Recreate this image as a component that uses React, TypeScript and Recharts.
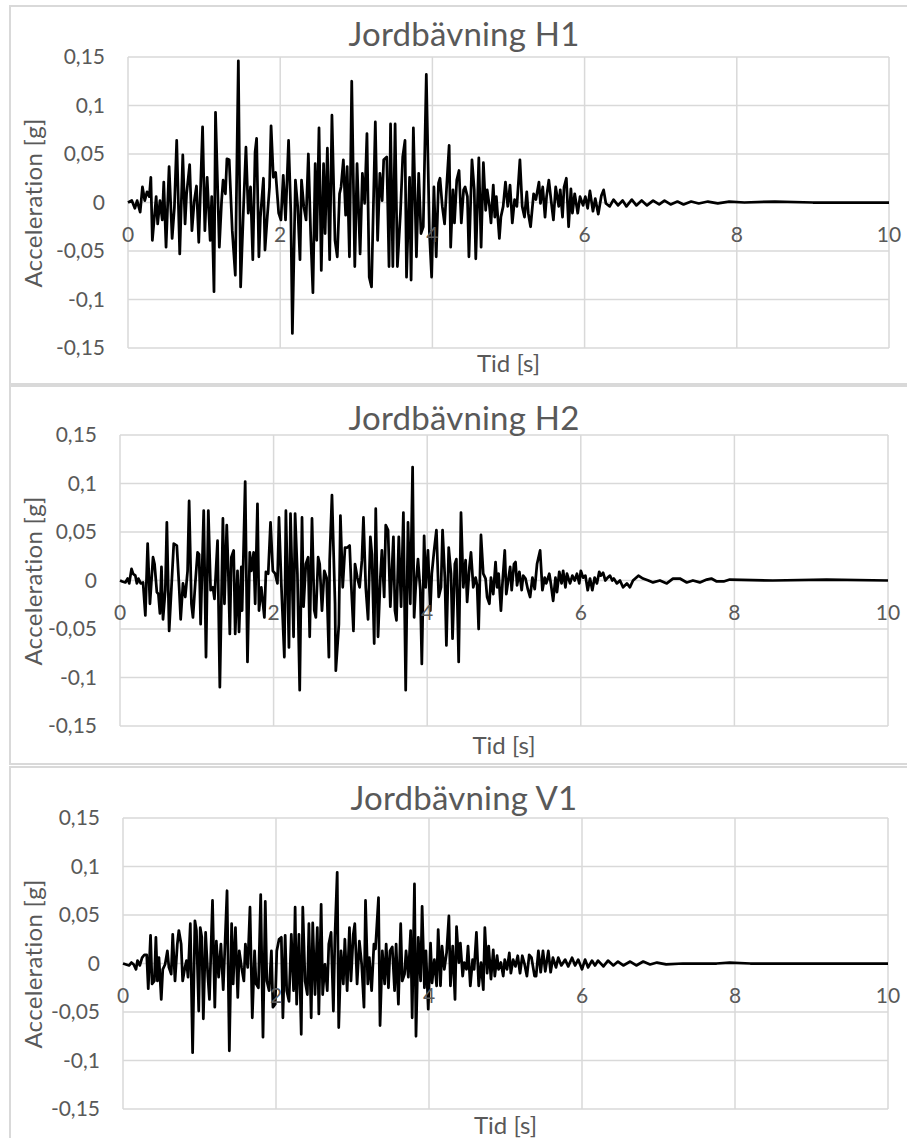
import { LineChart, Line, XAxis, YAxis, CartesianGrid } from 'recharts';

// time [s], acceleration [g] — peaks and troughs
const H1: [number, number][] = [
  [0, 0], [0.05, 0.002], [0.09, -0.006], [0.12, 0.002], [0.16, -0.01], [0.19, 0.016], [0.22, 0.002], [0.25, 0.011],
  [0.28, 0.006], [0.3, 0.026], [0.32, -0.039], [0.37, 0.006], [0.39, -0.022], [0.42, 0.002], [0.45, -0.018], [0.47, 0.021],
  [0.5, -0.046], [0.54, 0.037], [0.58, -0.037], [0.61, -0.005], [0.64, 0.064], [0.68, -0.053], [0.72, 0.049], [0.75, -0.022],
  [0.77, 0.009], [0.81, 0.039], [0.84, -0.029], [0.87, 0.001], [0.9, 0.017], [0.93, -0.041], [0.98, 0.078], [1.01, -0.029],
  [1.04, 0.026], [1.08, -0.039], [1.1, 0.006], [1.13, -0.092], [1.15, 0.093], [1.2, -0.046], [1.23, 0.002], [1.25, 0.023],
  [1.28, 0.009], [1.3, 0.045], [1.33, 0.044], [1.37, -0.029], [1.41, -0.075], [1.45, 0.146], [1.48, -0.087], [1.52, -0.001],
  [1.55, 0.057], [1.58, -0.011], [1.61, 0.016], [1.64, -0.059], [1.67, 0.052], [1.69, 0.066], [1.72, -0.056], [1.74, -0.015],
  [1.78, 0.025], [1.8, -0.049], [1.83, -0.015], [1.86, 0.016], [1.88, 0.079], [1.91, 0.026], [1.94, 0.031], [1.98, -0.011],
  [2.01, -0.018], [2.04, 0.028], [2.07, -0.018], [2.11, 0.064], [2.14, -0.011], [2.16, -0.135], [2.2, 0.023], [2.23, -0.004],
  [2.26, -0.059], [2.28, 0.023], [2.31, -0.004], [2.34, -0.018], [2.37, 0.05], [2.4, -0.032], [2.43, -0.093], [2.46, 0.04],
  [2.48, -0.039], [2.51, 0.077], [2.54, -0.07], [2.57, 0.04], [2.59, -0.032], [2.62, 0.056], [2.65, -0.059], [2.68, 0.09],
  [2.72, -0.039], [2.75, -0.056], [2.78, 0.009], [2.8, 0.016], [2.83, 0.044], [2.86, -0.013], [2.88, 0.037], [2.91, -0.056],
  [2.94, 0.125], [2.98, -0.066], [3.01, 0.04], [3.05, -0.053], [3.08, 0.03], [3.11, -0.001], [3.14, 0.071], [3.17, -0.077],
  [3.2, -0.087], [3.25, 0.083], [3.28, -0.039], [3.31, 0.03], [3.34, 0.002], [3.36, 0.044], [3.4, 0.047], [3.43, -0.066],
  [3.45, 0.081], [3.48, -0.066], [3.51, 0.081], [3.54, -0.066], [3.58, -0.011], [3.61, 0.047], [3.64, 0.064], [3.66, -0.077],
  [3.7, 0.026], [3.72, -0.08], [3.75, 0.077], [3.79, -0.056], [3.82, 0.03], [3.85, -0.032], [3.88, -0.025], [3.92, 0.132],
  [3.96, -0.029], [3.99, -0.077], [4.02, 0.016], [4.05, -0.056], [4.08, 0.02], [4.1, 0.025], [4.13, -0.004], [4.16, -0.022],
  [4.19, 0.02], [4.22, 0.059], [4.24, -0.046], [4.27, 0.013], [4.29, -0.021], [4.32, 0.023], [4.35, 0.033], [4.38, -0.021],
  [4.41, 0.013], [4.43, 0.016], [4.46, 0.006], [4.48, -0.056], [4.52, 0.044], [4.55, 0.013], [4.57, -0.058], [4.61, 0.046],
  [4.64, -0.046], [4.67, 0.041], [4.7, -0.008], [4.72, 0.013], [4.75, -0.004], [4.77, -0.021], [4.8, 0.018], [4.82, -0.015],
  [4.84, 0.006], [4.88, -0.037], [4.9, -0.015], [4.93, -0.004], [4.96, 0.021], [4.99, -0.004], [5.02, 0.018], [5.05, -0.021],
  [5.08, 0.003], [5.11, -0.004], [5.15, 0.044], [5.18, -0.004], [5.21, -0.015], [5.24, 0.011], [5.26, -0.011], [5.29, -0.025],
  [5.33, 0.009], [5.36, 0.003], [5.4, 0.021], [5.42, -0.001], [5.45, 0.016], [5.48, -0.015], [5.5, 0.006], [5.53, 0.023],
  [5.56, 0.002], [5.59, -0.018], [5.62, 0.016], [5.66, -0.004], [5.68, 0.013], [5.71, -0.015], [5.73, 0.016], [5.76, 0.025],
  [5.79, -0.025], [5.82, 0.014], [5.84, -0.011], [5.87, 0.009], [5.91, -0.011], [5.94, 0.006], [5.98, -0.003], [6.01, 0.006],
  [6.04, -0.006], [6.07, 0.012], [6.11, -0.009], [6.14, 0.004], [6.18, -0.012], [6.22, 0.007], [6.25, 0.013], [6.28, -0.001],
  [6.33, -0.004], [6.38, 0.003], [6.44, -0.003], [6.5, 0.002], [6.55, -0.004], [6.62, 0.003], [6.68, -0.003], [6.75, 0.002],
  [6.82, -0.003], [6.9, 0.002], [6.98, -0.002], [7.05, 0.002], [7.13, -0.002], [7.22, 0.001], [7.3, -0.002], [7.4, 0.001],
  [7.5, -0.001], [7.62, 0.001], [7.75, -0.001], [7.9, 0.001], [8.1, 0], [8.5, 0.001], [9, 0], [10, 0],
];

const H2: [number, number][] = [
  [0, 0], [0.03, -0.001], [0.07, -0.002], [0.1, 0.002], [0.12, -0.003], [0.15, 0.012], [0.17, 0.007], [0.2, 0.005],
  [0.22, -0.003], [0.24, 0.002], [0.27, -0.003], [0.3, -0.002], [0.33, -0.036], [0.36, 0.038], [0.39, -0.024], [0.43, 0.024],
  [0.45, 0.017], [0.48, -0.012], [0.5, -0.014], [0.52, -0.034], [0.54, 0.014], [0.56, -0.04], [0.59, -0.01], [0.61, 0.06],
  [0.64, -0.052], [0.67, -0.007], [0.7, 0.038], [0.74, 0.036], [0.77, -0.007], [0.79, -0.04], [0.82, -0.003], [0.85, -0.017],
  [0.88, 0.01], [0.9, 0.082], [0.93, -0.024], [0.95, -0.038], [0.98, -0.003], [1.01, 0.029], [1.03, 0.027], [1.05, -0.045],
  [1.09, 0.072], [1.12, -0.079], [1.15, 0.072], [1.18, -0.01], [1.21, -0.007], [1.23, -0.019], [1.27, 0.041], [1.3, -0.11],
  [1.34, 0.064], [1.36, -0.024], [1.39, 0.057], [1.41, 0.01], [1.43, -0.055], [1.45, 0.024], [1.48, 0.031], [1.5, -0.055],
  [1.53, 0.01], [1.55, -0.053], [1.58, 0.014], [1.59, -0.031], [1.63, 0.102], [1.66, -0.084], [1.69, 0.029], [1.71, 0.01],
  [1.74, 0.029], [1.76, -0.024], [1.79, 0.079], [1.81, -0.031], [1.84, -0.007], [1.88, -0.038], [1.9, 0.009], [1.93, 0.007],
  [1.96, 0.06], [1.99, 0.01], [2.02, 0.007], [2.05, -0.003], [2.07, 0.065], [2.1, -0.003], [2.14, -0.079], [2.16, 0.072],
  [2.2, -0.069], [2.22, 0.069], [2.26, -0.058], [2.28, 0.069], [2.31, 0.007], [2.34, -0.113], [2.37, 0.065], [2.39, -0.027],
  [2.42, 0.017], [2.45, 0.024], [2.47, -0.058], [2.5, 0.064], [2.53, -0.031], [2.55, -0.038], [2.58, 0.024], [2.6, 0.017],
  [2.63, -0.031], [2.66, 0.01], [2.69, 0.003], [2.72, -0.079], [2.73, 0.021], [2.76, 0.088], [2.8, -0.024], [2.81, -0.093],
  [2.85, -0.045], [2.87, 0.067], [2.9, -0.007], [2.93, 0.034], [2.96, 0.034], [2.99, 0.036], [3.01, -0.003], [3.04, -0.052],
  [3.06, 0.017], [3.09, 0.003], [3.12, -0.007], [3.15, 0.021], [3.17, 0.065], [3.2, -0.007], [3.23, -0.04], [3.26, 0.045],
  [3.28, 0.027], [3.31, -0.065], [3.33, 0.074], [3.36, -0.058], [3.39, 0.003], [3.41, 0.031], [3.44, -0.017], [3.46, 0.057],
  [3.49, 0.052], [3.52, -0.027], [3.56, 0.045], [3.58, -0.031], [3.6, -0.041], [3.63, 0.045], [3.66, -0.027], [3.69, 0.07],
  [3.72, -0.113], [3.75, 0.06], [3.78, -0.024], [3.81, 0.117], [3.83, -0.038], [3.85, -0.007], [3.88, 0.022], [3.91, -0.01],
  [3.93, -0.086], [3.96, 0.046], [3.98, -0.007], [4.01, 0.031], [4.04, -0.031], [4.06, 0.007], [4.09, 0.031], [4.12, 0.052],
  [4.15, -0.017], [4.18, -0.007], [4.2, 0.052], [4.23, 0.003], [4.25, -0.067], [4.28, 0.034], [4.31, 0.007], [4.33, -0.06],
  [4.36, 0.017], [4.38, 0.022], [4.41, -0.084], [4.44, 0.07], [4.47, -0.007], [4.5, 0.021], [4.52, -0.022], [4.55, 0.014],
  [4.57, 0.029], [4.6, -0.007], [4.63, 0.003], [4.65, -0.005], [4.67, -0.05], [4.7, 0.047], [4.73, 0.007], [4.76, 0.002],
  [4.78, -0.017], [4.81, -0.024], [4.83, 0.003], [4.86, -0.014], [4.89, 0.019], [4.91, -0.007], [4.93, 0.007], [4.96, -0.031],
  [4.98, -0.003], [5.01, 0.031], [5.03, -0.014], [5.06, 0.003], [5.08, 0.014], [5.1, -0.01], [5.13, 0.017], [5.15, 0.019],
  [5.17, -0.005], [5.2, 0.009], [5.23, -0.01], [5.25, 0.005], [5.28, 0.002], [5.31, -0.009], [5.34, -0.017], [5.37, 0.003],
  [5.4, -0.009], [5.43, 0.017], [5.47, 0.031], [5.5, -0.01], [5.53, 0.003], [5.55, -0.003], [5.59, 0.007], [5.61, -0.003],
  [5.64, -0.021], [5.67, 0.003], [5.69, -0.012], [5.72, 0.009], [5.75, -0.003], [5.77, 0.01], [5.8, -0.007], [5.82, 0.007],
  [5.86, -0.003], [5.89, 0.005], [5.92, 0], [5.95, 0.007], [5.98, -0.003], [6.0, 0.01], [6.03, 0.003], [6.06, 0.005],
  [6.09, -0.01], [6.12, 0.002], [6.15, -0.01], [6.18, 0.003], [6.21, -0.003], [6.24, 0.009], [6.26, 0.005], [6.29, 0.008],
  [6.32, 0], [6.35, 0.003], [6.38, 0.005], [6.41, 0], [6.43, 0.002], [6.47, -0.003], [6.51, 0], [6.55, -0.007],
  [6.6, -0.003], [6.64, -0.007], [6.68, 0], [6.75, 0.005], [6.81, 0.002], [6.88, 0], [6.94, -0.002], [7.03, 0],
  [7.12, -0.003], [7.2, 0.002], [7.29, 0.002], [7.38, -0.002], [7.46, 0], [7.55, -0.002], [7.64, 0.001], [7.7, 0.002],
  [7.77, -0.001], [7.86, -0.001], [7.94, 0.001], [8.5, 0], [9.2, 0.001], [10, 0],
];

const V1: [number, number][] = [
  [0, 0], [0.04, -0.001], [0.08, -0.002], [0.11, 0.001], [0.14, -0.001], [0.17, -0.006], [0.19, 0.003], [0.22, -0.002],
  [0.25, 0.006], [0.28, 0.009], [0.31, 0.009], [0.33, -0.026], [0.36, 0.029], [0.38, -0.021], [0.41, -0.018], [0.43, 0.027],
  [0.45, -0.018], [0.47, 0.006], [0.5, -0.037], [0.52, -0.006], [0.55, -0.001], [0.58, 0.013], [0.6, -0.004], [0.63, -0.011],
  [0.65, 0.03], [0.68, -0.018], [0.71, 0.02], [0.73, 0.034], [0.76, 0.02], [0.78, -0.018], [0.81, -0.004], [0.83, 0.003],
  [0.85, -0.014], [0.88, 0.041], [0.91, -0.092], [0.94, 0.044], [0.96, 0.034], [0.99, -0.049], [1.01, 0.037], [1.03, 0.027],
  [1.05, -0.057], [1.08, 0.032], [1.11, -0.014], [1.13, -0.037], [1.17, 0.065], [1.2, -0.045], [1.22, 0.023], [1.25, -0.014],
  [1.28, 0.02], [1.31, -0.027], [1.33, 0.013], [1.36, 0.075], [1.39, -0.09], [1.42, 0.041], [1.44, -0.021], [1.47, 0.037],
  [1.5, -0.035], [1.52, 0.013], [1.55, -0.004], [1.58, -0.018], [1.6, 0.02], [1.63, -0.004], [1.66, 0.058], [1.69, -0.056],
  [1.72, 0.013], [1.74, -0.021], [1.77, -0.025], [1.8, 0.071], [1.83, -0.076], [1.86, 0.064], [1.88, -0.018], [1.91, -0.028],
  [1.94, 0.013], [1.96, -0.045], [1.99, -0.042], [2.01, 0.013], [2.04, 0.025], [2.07, 0.027], [2.09, -0.056], [2.12, 0.029],
  [2.14, -0.028], [2.17, -0.039], [2.2, 0.03], [2.23, -0.028], [2.25, 0.058], [2.27, -0.042], [2.3, 0.03], [2.33, -0.073],
  [2.35, 0.058], [2.38, -0.018], [2.41, -0.032], [2.43, 0.041], [2.46, -0.056], [2.48, 0.042], [2.51, -0.032], [2.54, 0.037],
  [2.56, -0.052], [2.59, 0.061], [2.61, -0.032], [2.64, -0.001], [2.67, -0.028], [2.69, 0.02], [2.72, 0.032], [2.75, -0.049],
  [2.77, 0.027], [2.8, 0.094], [2.82, -0.066], [2.85, 0.013], [2.88, -0.021], [2.9, 0.025], [2.93, -0.028], [2.96, 0.037],
  [2.98, -0.018], [3.01, 0.03], [3.03, 0.041], [3.06, -0.021], [3.09, 0.023], [3.12, -0.001], [3.15, -0.045], [3.17, 0.065],
  [3.2, -0.021], [3.22, 0.006], [3.25, -0.028], [3.28, 0.02], [3.3, 0.015], [3.34, 0.068], [3.36, -0.064], [3.39, 0.013],
  [3.42, -0.021], [3.44, 0.02], [3.47, -0.025], [3.49, 0.013], [3.52, 0.017], [3.55, -0.028], [3.57, 0.02], [3.6, -0.042],
  [3.63, 0.041], [3.65, -0.018], [3.68, -0.011], [3.7, 0.013], [3.73, -0.014], [3.76, 0.034], [3.78, -0.056], [3.81, 0.082],
  [3.83, -0.075], [3.86, 0.027], [3.89, -0.018], [3.91, 0.059], [3.94, -0.025], [3.96, 0.013], [3.99, -0.047], [4.02, 0.021],
  [4.04, -0.02], [4.07, 0.004], [4.1, -0.023], [4.12, 0.035], [4.15, -0.023], [4.17, 0.018], [4.2, -0.006], [4.23, 0.011],
  [4.26, 0.049], [4.28, -0.023], [4.31, 0.018], [4.34, -0.037], [4.36, 0.038], [4.39, 0.001], [4.41, 0.021], [4.44, -0.013],
  [4.46, 0.001], [4.49, -0.006], [4.51, 0.018], [4.54, -0.023], [4.57, 0.004], [4.59, -0.006], [4.62, 0.032], [4.65, -0.023],
  [4.68, 0.001], [4.71, -0.027], [4.73, 0.037], [4.76, -0.01], [4.78, 0.018], [4.81, -0.016], [4.84, 0.014], [4.86, -0.013],
  [4.89, 0.008], [4.91, -0.006], [4.94, 0.001], [4.97, -0.013], [4.99, 0.004], [5.02, -0.006], [5.05, 0.011], [5.07, -0.01],
  [5.1, 0.004], [5.13, -0.003], [5.16, 0.008], [5.19, -0.01], [5.22, 0.008], [5.25, -0.001], [5.28, -0.013], [5.31, 0.009],
  [5.34, 0.006], [5.38, -0.013], [5.4, -0.013], [5.43, 0.013], [5.46, -0.009], [5.49, 0.013], [5.52, -0.008], [5.56, 0.013],
  [5.59, -0.009], [5.62, 0.006], [5.66, -0.004], [5.69, 0.006], [5.73, -0.002], [5.78, 0.004], [5.82, -0.003], [5.87, 0.006],
  [5.91, -0.002], [5.95, 0.004], [6.0, -0.006], [6.04, 0.004], [6.08, -0.004], [6.13, 0.003], [6.17, -0.002], [6.21, 0.003],
  [6.28, -0.003], [6.34, 0.003], [6.41, -0.002], [6.47, 0.002], [6.54, -0.002], [6.63, 0.002], [6.71, -0.002], [6.8, 0.002],
  [6.89, -0.001], [6.98, 0.001], [7.1, -0.001], [7.32, 0], [7.76, 0], [7.93, 0.001], [8.2, 0], [10, 0],
];

const X_TICKS = [0, 2, 4, 6, 8, 10];
const Y_TICKS = [-0.15, -0.1, -0.05, 0, 0.05, 0.1, 0.15];

const FONT = 'Lato, "Open Sans", sans-serif';
const GRAY = '#595959';
const GRID = '#d9d9d9';
const PLOT_H = 291;
const INNER_W = 896;
const INNER_H = 376;
const X_AXIS_H = 30;
const TICK_FS = 21;

const fmt = (v: number) => String(v).replace('.', ',');

// Excel puts the category axis at y = 0, so labels sit just under the middle of the plot
function ZeroTick(props: any) {
  const { x, y, payload } = props;
  return (
    <text x={x} y={y - PLOT_H / 2 + 39} textAnchor="middle" fill={GRAY} fontSize={TICK_FS} fontFamily={FONT}>
      {payload.value}
    </text>
  );
}

interface PanelProps {
  title: string;
  series: [number, number][];
  top: number;
  plotLeft: number;
  plotTop: number;
  plotW: number;
  titleY: number;
  xTitleY: number;
}

function Panel({ title, series, top, plotLeft, plotTop, plotW, titleY, xTitleY }: PanelProps) {
  const data = series.map(([t, a]) => ({ t, a }));
  const centered = { position: 'absolute' as const, whiteSpace: 'nowrap' as const, lineHeight: 1, color: GRAY, fontFamily: FONT };

  return (
    <div
      style={{
        position: 'absolute', left: 9, top, width: 900, height: 380,
        border: `2px solid ${GRID}`, boxSizing: 'border-box', background: '#fff',
      }}
    >
      <LineChart
        width={INNER_W}
        height={INNER_H}
        data={data}
        margin={{ top: plotTop, right: INNER_W - plotLeft - plotW, bottom: INNER_H - plotTop - PLOT_H - X_AXIS_H, left: 0 }}
      >
        <CartesianGrid stroke={GRID} strokeWidth={1.5} />
        <XAxis
          type="number"
          dataKey="t"
          domain={[0, 10]}
          ticks={X_TICKS}
          height={X_AXIS_H}
          axisLine={false}
          tickLine={false}
          tickSize={0}
          tickMargin={0}
          tick={<ZeroTick />}
        />
        <YAxis
          type="number"
          domain={[-0.15, 0.15]}
          ticks={Y_TICKS}
          width={plotLeft}
          axisLine={false}
          tickLine={false}
          tickSize={0}
          tickMargin={23}
          tickFormatter={fmt}
          tick={{ fill: GRAY, fontSize: TICK_FS, fontFamily: FONT }}
        />
        <Line
          type="linear"
          dataKey="a"
          stroke="#000"
          strokeWidth={2.75}
          strokeLinejoin="round"
          dot={false}
          isAnimationActive={false}
        />
      </LineChart>
      <div style={{ ...centered, left: 453, top: titleY, transform: 'translate(-50%, -50%)', fontSize: 33, letterSpacing: 0.2 }}>
        {title}
      </div>
      <div style={{ ...centered, left: 22, top: plotTop + PLOT_H / 2, transform: 'translate(-50%, -50%) rotate(-90deg)', fontSize: 24, letterSpacing: 0.3 }}>
        Acceleration [g]
      </div>
      <div style={{ ...centered, left: plotLeft + plotW / 2, top: xTitleY, transform: 'translate(-50%, -50%)', fontSize: 24 }}>
        Tid [s]
      </div>
    </div>
  );
}

export default function App() {
  return (
    <div style={{ position: 'absolute', left: 0, top: 0, width: 907, height: 1138, overflow: 'hidden', background: '#fff' }}>
      <Panel title="Jordbävning H1" series={H1} top={5} plotLeft={117} plotTop={50} plotW={761} titleY={26} xTitleY={356} />
      <Panel title="Jordbävning H2" series={H2} top={385} plotLeft={109} plotTop={48} plotW={768} titleY={30} xTitleY={358} />
      <Panel title="Jordbävning V1" series={V1} top={766} plotLeft={112} plotTop={50} plotW={765} titleY={29} xTitleY={357} />
    </div>
  );
}
